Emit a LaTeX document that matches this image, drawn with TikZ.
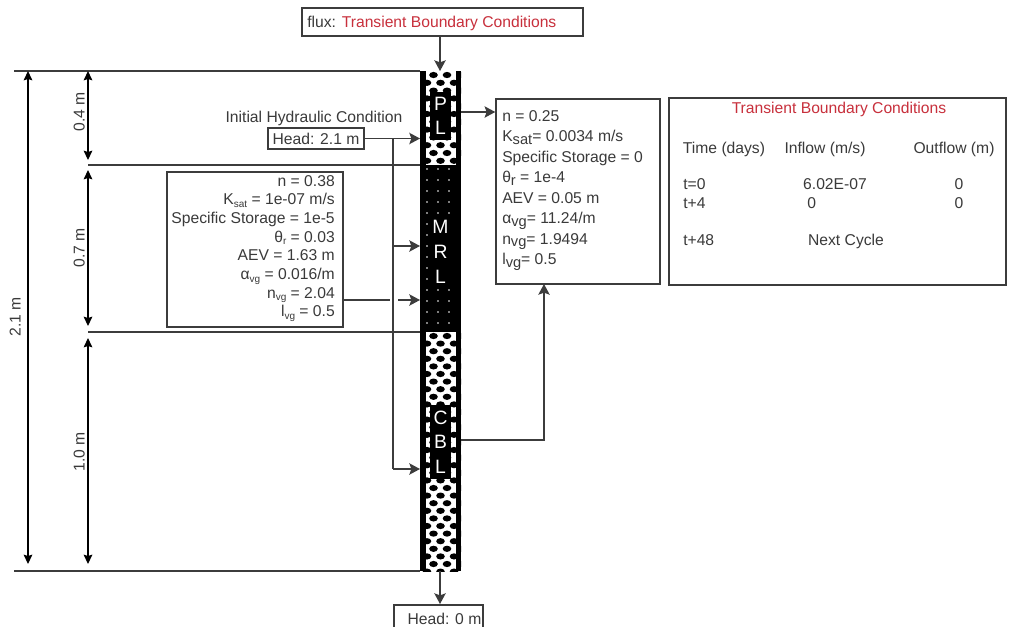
\documentclass[tikz,border=0pt]{standalone}
\usepackage{fontspec}
\setmainfont{Liberation Sans}
\usetikzlibrary{arrows.meta}
\definecolor{txt}{HTML}{3A3A3A}
\definecolor{redt}{HTML}{C8303C}
\definecolor{ln}{HTML}{3C3C3C}
\tikzset{
 x=0.75pt,y=-0.75pt,
 every node/.style={font=\fontsize{11.75}{14}\selectfont,text=txt,inner sep=0pt,text height=8.4pt,text depth=0pt},
 frame/.style={draw=ln,line width=1.1pt,fill=white},
 conn/.style={draw=ln,line width=1.1pt,-{Stealth[length=8pt,width=8.5pt,inset=1.5pt]}},
 plainline/.style={draw=ln,line width=1pt},
 dim/.style={draw=black,line width=0.9pt,{Stealth[length=7pt,width=6.5pt,inset=1pt]}-{Stealth[length=7pt,width=6.5pt,inset=1pt]}},
 dimtext/.style={rotate=90,anchor=center},
 lay/.style={fill=black,text=white,font=\fontsize{14.5}{18.5}\selectfont,align=center,minimum width=21*0.75pt,text height=,text depth=},
 mat/.style={align=right,anchor=north east,font=\fontsize{11.75}{14}\selectfont,text height=,text depth=},
 mat2/.style={align=left,anchor=north west,font=\fontsize{11.75}{15.4}\selectfont,text height=,text depth=},
}
\newcommand{\lo}[1]{\raisebox{-0.3ex}{\fontsize{7.5}{7.5}\selectfont #1}}
\newcommand{\lob}[1]{\raisebox{-0.3ex}{\fontsize{11}{11}\selectfont #1}}
\begin{document}
\begin{tikzpicture}
\useasboundingbox (0,0) rectangle (1009,626);
\clip (0,0) rectangle (1009,626);
\fill[white] (0,0) rectangle (1009,626);
% column
\begin{scope}
\clip (420,71) rectangle (461,571);
\foreach \r in {0,...,11}{
  \pgfmathsetmacro{\yy}{75+\r*7.8}
  \pgfmathsetmacro{\xo}{mod(\r,2)==0 ? 433.5 : 427}
  \foreach \c in {0,1,2}{ \fill[black] ({\xo+\c*13.5},\yy) ellipse (4.3 and 3.1); }
}
\foreach \r in {0,...,31}{
  \pgfmathsetmacro{\yy}{336+\r*7.6}
  \pgfmathsetmacro{\xo}{mod(\r,2)==0 ? 433.5 : 427}
  \foreach \c in {0,1,2}{ \fill[black] ({\xo+\c*13.5},\yy) ellipse (4.3 and 3.1); }
}
\end{scope}
\fill[black] (420,165) rectangle (461,332);
\foreach \r in {0,...,14}{
  \foreach \c in {0,1,2}{ \fill[white] ({427+\c*11},{169+\r*11}) circle (0.8); }
}
\fill[black] (420,71) rectangle (426,571);
\fill[black] (456,71) rectangle (461,571);
\node[lay,minimum height=48*0.75pt] (pl) at (440.5,116) {P\\[0pt]L};
\node[lay,minimum height=74*0.75pt] (cbl) at (440.5,442) {C\\[0pt]B\\[0pt]L};
\node[lay,minimum height=74*0.75pt] (mrl) at (440.5,252) {M\\R\\L};
\coordinate (coltop) at (440,71);
\coordinate (colbot) at (440,571);
\coordinate (colr1) at (461,112);
\coordinate (colr2) at (461,440);
\coordinate (coll1) at (420,138.5);
\coordinate (coll2) at (420,246);
\coordinate (coll3) at (420,300);
\coordinate (coll4) at (420,469);
% guide lines
\coordinate (g1a) at (14,71); \coordinate (g1b) at (420,71);
\coordinate (g2a) at (88,165); \coordinate (g2b) at (420,165);
\coordinate (g3a) at (88,332); \coordinate (g3b) at (420,332);
\coordinate (g4a) at (14,571); \coordinate (g4b) at (420,571);
\draw[plainline] (g1a)--(g1b);
\draw[plainline] (g2a)--(g2b);
\draw[plainline] (g3a)--(g3b);
\draw[plainline] (g4a)--(g4b);
% dimension arrows
\coordinate (d1a) at (28,71); \coordinate (d1b) at (28,564);
\coordinate (d2a) at (88,71); \coordinate (d2b) at (88,160);
\coordinate (d3a) at (88,170); \coordinate (d3b) at (88,326);
\coordinate (d4a) at (88,338); \coordinate (d4b) at (88,564);
\draw[dim] (d1a)--(d1b);
\draw[dim] (d2a)--(d2b);
\draw[dim] (d3a)--(d3b);
\draw[dim] (d4a)--(d4b);
\node[dimtext] (t21) at (15,317) {2.1 m};
\node[dimtext] (t04) at (79,112) {0.4 m};
\node[dimtext] (t07) at (79,248) {0.7 m};
\node[dimtext] (t10) at (79,452) {1.0 m};
% top box
\node[frame,minimum width=281*0.75pt,minimum height=28*0.75pt] (flux) at (442.5,22) {flux: \textcolor{redt}{Transient Boundary Conditions}\hspace*{16pt}};
\draw[conn] (flux.south -| coltop) -- (coltop);
% bottom
\draw[conn] (colbot) -- (440,604);
\coordinate (hb1) at (394,630); \coordinate (hb2) at (394,605); \coordinate (hb3) at (483,605); \coordinate (hb4) at (483,630);
\draw[draw=ln,line width=1.1pt] (hb1)--(hb2)--(hb3)--(hb4);
\node (head0) at (444.5,619) {Head: 0 m};
% initial
\node (ihc) at (314,117) {Initial Hydraulic Condition};
\node[frame,minimum width=96*0.75pt,minimum height=21*0.75pt] (head) at (316,138.5) {Head: 2.1 m};
\coordinate (junc) at (393,138.5);
\draw[conn] (head.east) -- (coll1);
\draw[plainline] (junc) -- (393,469);
\draw[conn] (393,246) -- (coll2);
\draw[conn] (393,469) -- (coll4);
% MRL material
\node[frame,minimum width=176*0.75pt,minimum height=155*0.75pt] (mbox) at (255,249.5) {};
\node[mat] (mtxt) at (335,175) {n = 0.38\\K\lo{sat} = 1e-07 m/s\\Specific Storage = 1e-5\\θ\lo{r} = 0.03\\AEV = 1.63 m\\α\lo{vg} = 0.016/m\\n\lo{vg} = 2.04\\l\lo{vg} = 0.5};
\draw[plainline] (mbox.east |- coll3) -- (390,300);
\draw[conn] (398,300) -- (coll3);
% right material box
\node[frame,minimum width=164*0.75pt,minimum height=185*0.75pt] (rbox) at (578,191.5) {};
\node[mat2] (rtxt) at (502,110) {n = 0.25\\K\lob{sat}= 0.0034 m/s\\Specific Storage = 0\\θ\lob{r} = 1e-4\\AEV = 0.05 m\\α\lob{vg}= 11.24/m\\n\lob{vg}= 1.9494\\l\lob{vg}= 0.5};
\draw[conn] (colr1) -- (colr1 -| rbox.west);
\draw[conn] (colr2) -| (544,284);
% transient table
\node[frame,minimum width=337*0.75pt,minimum height=187*0.75pt] (tbox) at (837.5,191.5) {};
\node[text=redt] (ttitle) at (839,108) {Transient Boundary Conditions};
\node (h1) at (724,148) {Time (days)};
\node (h2) at (825,148) {Inflow (m/s)};
\node (h3) at (954,148) {Outflow (m)};
\node[anchor=west] (a1) at (683,184) {t=0};
\node (a2) at (835,184) {6.02E-07};
\node (a3) at (959,184) {0};
\node[anchor=west] (b1) at (683,203) {t+4};
\node[anchor=west] (b2) at (807,203) {0};
\node (b3) at (959,203) {0};
\node[anchor=west] (c1) at (683,240) {t+48};
\node (c2) at (846,240) {Next Cycle};
\end{tikzpicture}
\end{document}
